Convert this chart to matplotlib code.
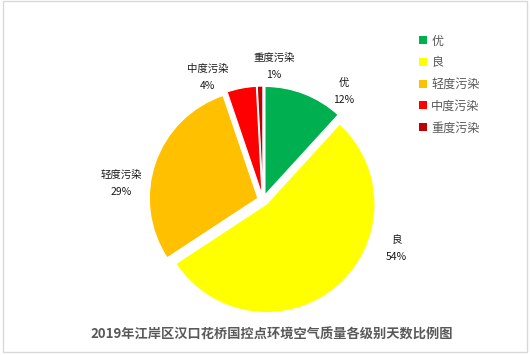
import matplotlib
matplotlib.use("Agg")
import matplotlib.pyplot as plt
from matplotlib.patches import Rectangle

plt.rcParams['font.family'] = ['Noto Sans CJK SC', 'DejaVu Sans']

categories = ['优', '良', '轻度污染', '中度污染', '重度污染']
days = [43, 197, 106, 16, 3]
colors = ['#00B050', '#FFFF00', '#FFC000', '#FF0000', '#C00000']
title = '2019年江岸区汉口花桥国控点环境空气质量各级别天数比例图'

W, H = 531, 355
fig = plt.figure(figsize=(W / 100, H / 100), dpi=100)
ax = fig.add_axes([0, 0, 1, 1])

cx, cy, R = 263, 200, 108.5  # pixel layout of the pie
wedges, _ = ax.pie(days, colors=colors, startangle=90, counterclock=False,
                   explode=[0.05] * len(days),
                   wedgeprops=dict(edgecolor='white', linewidth=0.8))
ax.set_aspect('auto')
ax.set_xlim(-cx / R, (W - cx) / R)
ax.set_ylim(-(H - cy) / R, cy / R)
ax.axis('off')

total = sum(days)
label_pos = [(0.74, 1.0), (1.23, -0.45), (-1.31, 0.15), (-0.51, 1.13), (0.10, 1.23)]
half = 8.5 / R
for name, d, (lx, ly) in zip(categories, days, label_pos):
    ax.text(lx, ly + half, name, ha='center', va='center', fontsize=7.5, color='#1a1a1a')
    ax.text(lx, ly - half, f'{d / total * 100:.0f}%', ha='center', va='center',
            fontsize=7.5, color='#1a1a1a')

leg = fig.legend(wedges, categories, loc='upper left', bbox_to_anchor=(419 / W, 1 - 34.5 / H),
                 frameon=False, fontsize=8.7, handlelength=0.65, handleheight=0.65,
                 handletextpad=0.35, labelspacing=0.72, borderpad=0, borderaxespad=0)
for t in leg.get_texts():
    t.set_color('#595959')
for h in leg.legend_handles:
    h.set_edgecolor('none')

fig.text(272 / W, 1 - 335 / H, title, ha='center', va='center', fontsize=9.5,
         fontweight='bold', color='#595959')

fig.patches.append(Rectangle((2.5 / W, 3 / H), 524.5 / W, 351.5 / H, transform=fig.transFigure,
                             fill=False, edgecolor='#d9d9d9', linewidth=1))

fig.savefig('out.png', dpi=100)
